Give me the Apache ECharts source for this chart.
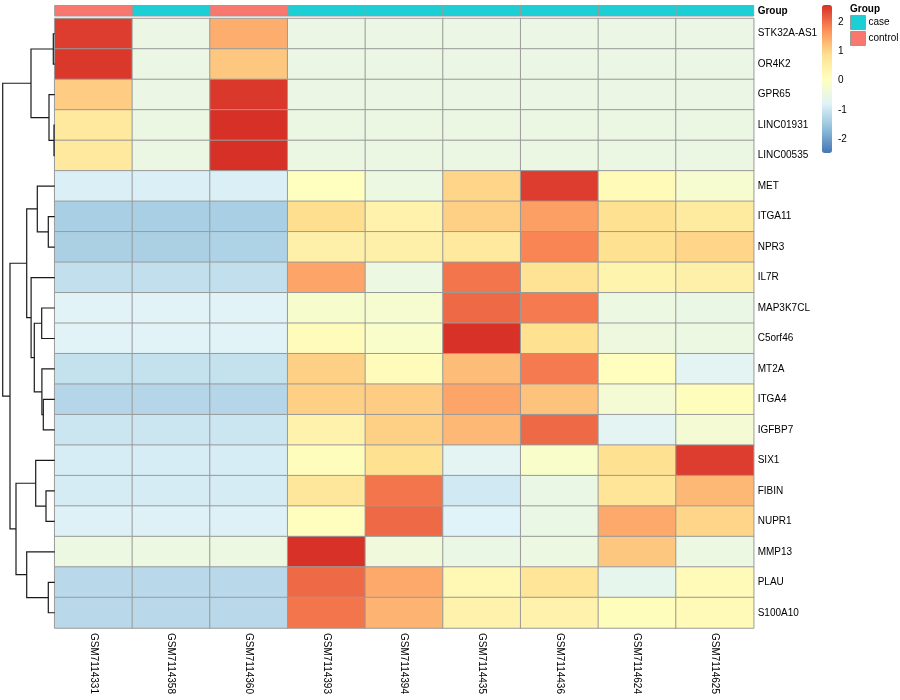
<!DOCTYPE html>
<html>
<head>
<meta charset="utf-8">
<script src="https://cdn.jsdelivr.net/npm/echarts@6/dist/echarts.min.js"></script>
<style>html,body{margin:0;padding:0;background:#fff}#c{width:900px;height:700px}</style>
</head>
<body>
<div id="c"></div>
<script>
// ---------------- data ----------------
const samples = ['GSM7114331','GSM7114358','GSM7114360','GSM7114393','GSM7114394','GSM7114435','GSM7114436','GSM7114624','GSM7114625'];
const groups = ['control','case','control','case','case','case','case','case','case'];
const genes = ['STK32A-AS1','OR4K2','GPR65','LINC01931','LINC00535','MET','ITGA11','NPR3','IL7R','MAP3K7CL','C5orf46','MT2A','ITGA4','IGFBP7','SIX1','FIBIN','NUPR1','MMP13','PLAU','S100A10'];
const zScores = [
  [ 2.45,-0.49, 1.40,-0.49,-0.49,-0.49,-0.49,-0.49,-0.49],
  [ 2.50,-0.49, 1.15,-0.49,-0.49,-0.49,-0.49,-0.49,-0.49],
  [ 1.10,-0.49, 2.50,-0.49,-0.49,-0.49,-0.49,-0.49,-0.49],
  [ 0.65,-0.47, 2.62,-0.47,-0.47,-0.47,-0.47,-0.47,-0.47],
  [ 0.65,-0.47, 2.62,-0.47,-0.47,-0.47,-0.47,-0.47,-0.47],
  [-0.85,-0.85,-0.85, 0.05,-0.45, 1.00, 2.45, 0.20,-0.20],
  [-1.37,-1.37,-1.37, 0.90, 0.40, 1.05, 1.55, 0.85, 0.60],
  [-1.35,-1.35,-1.30, 0.45, 0.45, 0.65, 1.80, 0.85, 1.00],
  [-1.11,-1.11,-1.11, 1.50,-0.45, 1.95, 0.80, 0.35, 0.45],
  [-0.75,-0.75,-0.75,-0.15,-0.20, 2.05, 1.90,-0.45,-0.50],
  [-0.75,-0.75,-0.75, 0.15,-0.10, 2.55, 0.85,-0.40,-0.45],
  [-1.08,-1.08,-1.08, 1.05, 0.15, 1.25, 1.90, 0.08,-0.70],
  [-1.25,-1.25,-1.25, 1.05, 1.10, 1.50, 1.20,-0.25, 0.10],
  [-1.00,-1.00,-1.00, 0.40, 1.05, 1.30, 2.05,-0.70,-0.25],
  [-0.88,-0.88,-0.88, 0.10, 0.85,-0.70,-0.10, 0.85, 2.45],
  [-0.90,-0.90,-0.90, 0.70, 1.95,-0.95,-0.50, 0.75, 1.30],
  [-0.82,-0.82,-0.82, 0.07, 2.05,-0.78,-0.50, 1.45, 1.00],
  [-0.45,-0.45,-0.45, 2.55,-0.35,-0.50,-0.45, 1.15,-0.45],
  [-1.20,-1.20,-1.20, 2.05, 1.45, 0.25, 0.75,-0.60, 0.20],
  [-1.20,-1.20,-1.20, 1.95, 1.35, 0.40, 0.40, 0.10, 0.20]
];
// row dendrogram (hclust style: negative = leaf row number, positive = earlier merge number)
const mergeLeft   = [-1,-4,-3, 1,-7,-6,-10,-13,-12, 7,-9, 6,-16,-15,-19,-18,14,12, 4];
const mergeRight  = [-2,-5, 2, 3,-8, 5,-11,-14,  8, 9,10,11,-17, 13,-20, 15,16,17,18];
const mergeHeight = [1.4,0.7,5.7,23.7,6.4,17.4,13.0,11.4,12.8,20.4,23.6,28.0,8.7,19.0,6.4,28.0,38.7,44.7,52.0];
const colorMin = -2.46, colorMax = 2.57;
const palette = ['#4575B4','#91BFDB','#E0F3F8','#FFFFBF','#FEE090','#FC8D59','#D73027'];
const groupColors = {case:'#1BCFD5', control:'#F8776F'};

// ---------------- build ----------------
const heatData = [];
zScores.forEach((row, r) => row.forEach((v, c) => heatData.push([c, r, v])));

const nodes = [];
const dendroData = [];
function nodeOf(ref){ return ref < 0 ? {h:0, y:(-ref - 1) + 0.5} : nodes[ref - 1]; }
for (let k = 0; k < mergeHeight.length; k++) {
  const a = nodeOf(mergeLeft[k]), b = nodeOf(mergeRight[k]);
  nodes.push({h: mergeHeight[k], y: (a.y + b.y) / 2});
  dendroData.push([mergeHeight[k], a.y, b.y, a.h, b.h]);
}

const FONT = 'Liberation Sans, Arial, Helvetica, sans-serif';
const gx = 54.7, gw = 699, gt = 18.5, gh = 609.5;

function annoSeries(name){
  return {
    type:'custom', name, xAxisIndex:1, yAxisIndex:1,
    itemStyle:{color: groupColors[name]},
    data: groups.map((g,i)=> g===name ? [i,0] : null).filter(d=>d),
    encode:{x:0,y:1},
    renderItem(params, api){
      const c = api.coord([api.value(0), api.value(1)]);
      const s = api.size([1,1]);
      return {type:'rect', shape:{x:c[0]-s[0]/2, y:c[1]-s[1]/2, width:s[0], height:s[1]},
        style:{fill: api.visual('color'), stroke:'#9a9a9a', lineWidth:1}};
    }
  };
}

const option = {
  animation:false,
  backgroundColor:'#fff',
  textStyle:{fontFamily:FONT},
  title:{text:'Group', left:850, top:4, padding:0, textStyle:{fontSize:10, fontWeight:'bold', color:'#000', fontFamily:FONT}},
  legend:{data:['case','control'], orient:'vertical', left:850, top:15, padding:0, icon:'rect',
    itemWidth:15, itemHeight:14, itemGap:1, selectedMode:false,
    itemStyle:{borderColor:'#9a9a9a', borderWidth:1},
    textStyle:{fontSize:10, color:'#000', fontFamily:FONT, padding:[0,0,0,-2]}},
  visualMap:[{type:'continuous', seriesIndex:0, min:colorMin, max:colorMax, calculable:false,
    left:822, top:5, itemWidth:10, itemHeight:148, padding:0, inRange:{color:palette}, text:null, hoverLink:false}],
  grid:[
    {left:gx, top:gt, width:gw, height:gh},
    {left:gx, top:5.5, width:gw, height:10.5},
    {left:2.7, top:gt, width:52, height:gh},
    {left:822, top:5, width:10, height:148}
  ],
  xAxis:[
    {gridIndex:0, type:'category', data:samples, axisLine:{show:false}, axisTick:{show:false},
      axisLabel:{rotate:-90, fontSize:10, color:'#000', margin:5, fontFamily:FONT}},
    {gridIndex:1, type:'category', data:samples, show:false},
    {gridIndex:2, type:'value', min:0, max:52, inverse:true, show:false},
    {gridIndex:3, type:'value', show:false}
  ],
  yAxis:[
    {gridIndex:0, type:'category', data:genes, inverse:true, position:'right', axisLine:{show:false}, axisTick:{show:false},
      axisLabel:{fontSize:10, color:'#000', margin:4, fontFamily:FONT}},
    {gridIndex:1, type:'category', data:['Group'], position:'right', axisLine:{show:false}, axisTick:{show:false},
      axisLabel:{fontSize:10, color:'#000', margin:4, fontWeight:'bold', fontFamily:FONT}},
    {gridIndex:2, type:'value', min:0, max:20, inverse:true, show:false},
    {gridIndex:3, type:'value', min:colorMin, max:colorMax, position:'right', axisLine:{show:false}, axisTick:{show:false},
      splitLine:{show:false}, axisLabel:{fontSize:10, color:'#000', margin:6, fontFamily:FONT, showMinLabel:false, showMaxLabel:false,
      formatter:v => Number.isInteger(v) ? String(v) : ''}}
  ],
  series:[
    {type:'heatmap', xAxisIndex:0, yAxisIndex:0, data:heatData,
      itemStyle:{borderColor:'#9a9a9a', borderWidth:1}, emphasis:{disabled:true}},
    annoSeries('case'),
    annoSeries('control'),
    {type:'custom', xAxisIndex:2, yAxisIndex:2, data:dendroData, encode:{x:[0,3,4], y:[1,2]}, silent:true,
      renderItem(params, api){
        const h = api.value(0), y1 = api.value(1), y2 = api.value(2), h1 = api.value(3), h2 = api.value(4);
        const pts = [api.coord([h1,y1]), api.coord([h,y1]), api.coord([h,y2]), api.coord([h2,y2])];
        return {type:'polyline', shape:{points:pts}, style:{stroke:'#1a1a1a', lineWidth:1.2, fill:null}};
      }}
  ]
};
echarts.init(document.getElementById('c'), null, {renderer:'canvas'}).setOption(option);
</script>
</body>
</html>
